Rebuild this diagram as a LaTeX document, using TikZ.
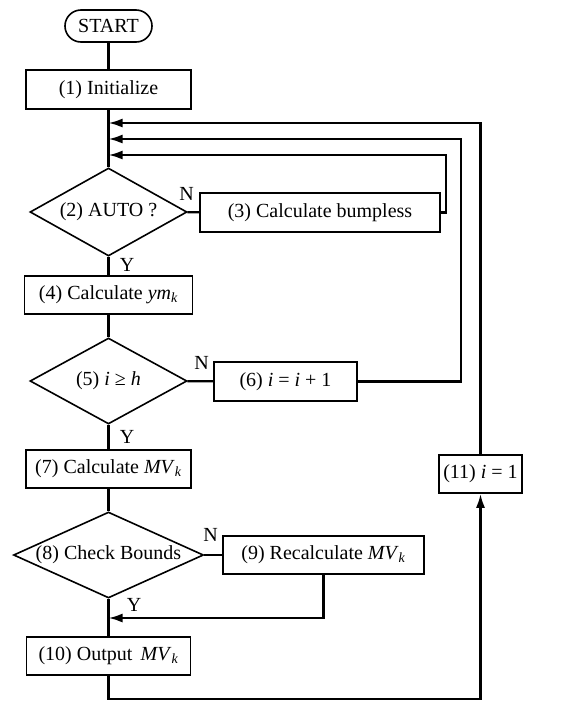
\documentclass[tikz,border=0pt]{standalone}
\usepackage{fontspec}
\setmainfont{Liberation Serif}
\usetikzlibrary{shapes.geometric,arrows.meta}
\newcommand\lowk{\textsubscript{\textit{k}}}
\begin{document}
\begin{tikzpicture}[x=1pt,y=-1pt,
  font=\fontsize{20}{24}\selectfont,
  boxst/.style={draw,line width=1.6pt,inner sep=0pt,minimum height=38pt},
  dia/.style={draw,shape=diamond,line width=1.6pt,inner sep=0pt,aspect=2},
  conn/.style={line width=2.2pt},
  arr/.style={line width=2.2pt,-{Latex[length=14pt,width=9pt]}},
  lab/.style={inner sep=0pt,font=\fontsize{20}{24}\selectfont}]
\useasboundingbox (0,0) rectangle (579,702);
\node[boxst,rounded corners=16pt,minimum width=87pt,minimum height=32pt] (start) at (108.5,26) {START};
\node[boxst,minimum width=165pt,minimum height=39pt] (init) at (108.5,89.5) {(1) Initialize};
\node[dia,minimum width=157pt,minimum height=88pt] (d2) at (108.5,212) {(2) AUTO ?};
\node[boxst,minimum width=240pt,minimum height=39pt] (b3) at (320,212.5) {(3) Calculate bumpless};
\node[boxst,minimum width=168pt] (b4) at (108.5,295) {(4) Calculate \textit{ym}\lowk};
\node[dia,minimum width=157pt,minimum height=86pt] (d5) at (108.5,381) {(5) \textit{i} ≥ \textit{h}};
\node[boxst,minimum width=143pt,minimum height=39pt] (b6) at (285.5,381.5) {(6) \textit{i} = \textit{i} + 1};
\node[boxst,minimum width=165pt] (b7) at (108.5,469) {(7) Calculate \textit{MV}\lowk};
\node[boxst,minimum width=83pt] (b11) at (480.5,474) {(11) \textit{i} = 1};
\node[dia,minimum width=190pt,minimum height=86pt,aspect=2.2] (d8) at (108.5,555) {(8) Check Bounds};
\node[boxst,minimum width=201pt] (b9) at (323.5,555) {(9) Recalculate \textit{MV}\lowk};
\node[boxst,minimum width=164pt] (b10) at (108.5,656) {(10) Output\, \textit{MV}\lowk};
% labels
\node[lab] (n2) at (186.5,194) {N};
\node[lab] (y2) at (127,265) {Y};
\node[lab] (n5) at (201.5,363) {N};
\node[lab] (y5) at (127,437) {Y};
\node[lab] (n8) at (210.5,535) {N};
\node[lab] (y8) at (134,605) {Y};
% junction coordinates on main line
\coordinate (j1) at (108.5,123);
\coordinate (j2) at (108.5,139);
\coordinate (j3) at (108.5,155);
\coordinate (j4) at (108.5,618);
\coordinate (c1) at (480.5,123);
\coordinate (c2) at (461,139);
\coordinate (c3) at (446,155);
\coordinate (c9) at (323.5,618);
\coordinate (bl) at (108.5,699);
\coordinate (br) at (480.5,699);
% connectors
\draw[conn] (start) -- (init);
\draw[conn] (init) -- (d2);
\draw[conn] (d2) -- (b3);
\draw[conn] (d2) -- (b4);
\draw[conn] (b4) -- (d5);
\draw[conn] (d5) -- (b6);
\draw[conn] (d5) -- (b7);
\draw[conn] (b7) -- (d8);
\draw[conn] (d8) -- (b9);
\draw[conn] (d8) -- (b10);
\draw[arr] (b11.north) -- (c1) -- (j1);
\draw[arr] (b6.east) -- (b6.east -| c2) -- (c2) -- (j2);
\draw[arr] (b3.east) -- (b3.east -| c3) -- (c3) -- (j3);
\draw[arr] (b9.south) -- (c9) -- (j4);
\draw[arr] (b10.south) -- (bl) -- (br) -- (b11.south);
\end{tikzpicture}
\end{document}
